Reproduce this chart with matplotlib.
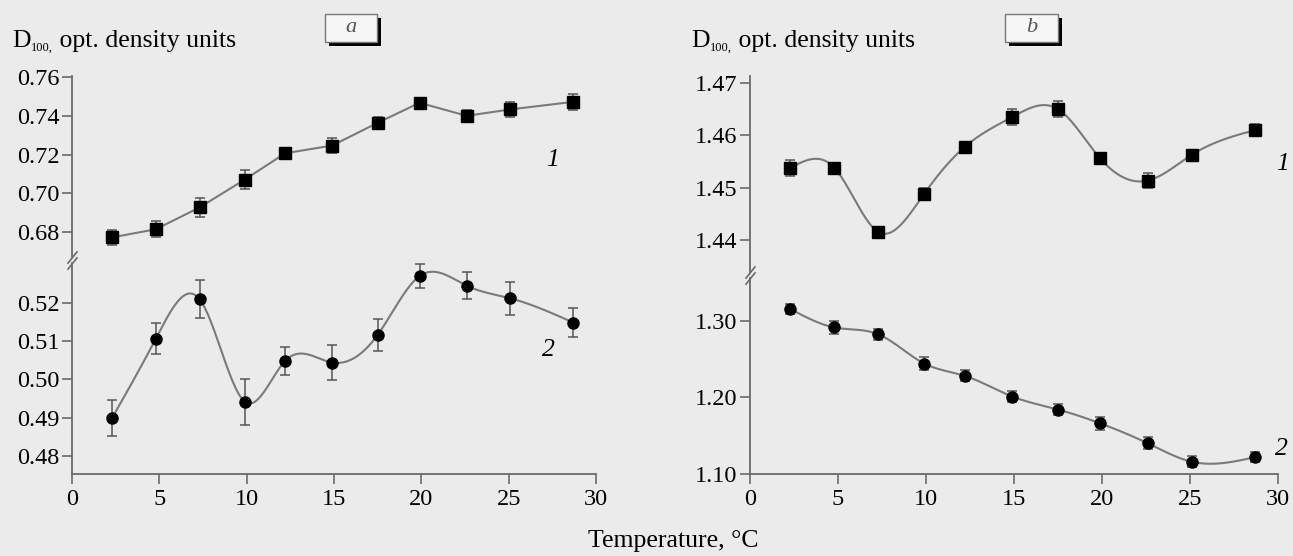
import numpy as np
import matplotlib
matplotlib.use('Agg')
import matplotlib.pyplot as plt
from matplotlib.patches import Rectangle

plt.rcParams['font.family'] = ['Liberation Serif', 'DejaVu Serif']

# temperature, degC
temp = [2.3, 4.8, 7.3, 9.9, 12.2, 14.9, 17.5, 19.9, 22.6, 25.1, 28.7]

# panel a
a1 = [0.6774, 0.6816, 0.6928, 0.7072, 0.7207, 0.7247, 0.7364, 0.7467, 0.7400, 0.7433, 0.7472]
a1_err = [0.004, 0.004, 0.005, 0.005, 0.002, 0.004, 0.003, 0.001, 0.003, 0.004, 0.004]
a2 = [0.4900, 0.5106, 0.5209, 0.4942, 0.5048, 0.5044, 0.5116, 0.5269, 0.5244, 0.5211, 0.5148]
a2_err = [0.0047, 0.0040, 0.0050, 0.0060, 0.0036, 0.0045, 0.0042, 0.0032, 0.0035, 0.0042, 0.0037]

# panel b
b1 = [1.4538, 1.4538, 1.4416, 1.4489, 1.4578, 1.4635, 1.4650, 1.4556, 1.4514, 1.4563, 1.4610]
b1_err = [0.0015, 0.001, 0.0008, 0.001, 0.001, 0.0015, 0.0015, 0.001, 0.0015, 0.001, 0.0012]
b2 = [1.315, 1.291, 1.282, 1.244, 1.228, 1.201, 1.184, 1.166, 1.140, 1.116, 1.122]
b2_err = [0.007, 0.008, 0.007, 0.008, 0.007, 0.007, 0.007, 0.008, 0.008, 0.007, 0.007]

x_ticks = [0, 5, 10, 15, 20, 25, 30]
a_top_ticks = [0.68, 0.70, 0.72, 0.74, 0.76]
a_bot_ticks = [0.48, 0.49, 0.50, 0.51, 0.52]
b_top_ticks = [1.44, 1.45, 1.46, 1.47]
b_bot_ticks = [1.10, 1.20, 1.30]

BG = '#ebebeb'
AX = '#6a6a6a'
LINE = '#7a7a7a'
FS = 17.5
FS_T = 18.5


def natural_spline(x, y, n=300):
    # natural cubic spline, drawn through the measured points
    x = np.asarray(x, float)
    y = np.asarray(y, float)
    k = len(x)
    h = np.diff(x)
    A = np.zeros((k, k))
    r = np.zeros(k)
    A[0, 0] = A[-1, -1] = 1
    for i in range(1, k - 1):
        A[i, i - 1] = h[i - 1]
        A[i, i] = 2 * (h[i - 1] + h[i])
        A[i, i + 1] = h[i]
        r[i] = 3 * ((y[i + 1] - y[i]) / h[i] - (y[i] - y[i - 1]) / h[i - 1])
    c = np.linalg.solve(A, r)
    b = (y[1:] - y[:-1]) / h - h * (2 * c[:-1] + c[1:]) / 3
    d = (c[1:] - c[:-1]) / (3 * h)
    xs = np.linspace(x[0], x[-1], n)
    idx = np.clip(np.searchsorted(x, xs) - 1, 0, k - 2)
    t = xs - x[idx]
    ys = y[idx] + b[idx] * t + c[idx] * t ** 2 + d[idx] * t ** 3
    return xs, ys


fig = plt.figure(figsize=(12.93, 5.56), dpi=100, facecolor=BG)
W, H = 1293.0, 556.0


def make_axes(x0, x1, y0, y1):
    ax = fig.add_axes([x0 / W, (H - y1) / H, (x1 - x0) / W, (y1 - y0) / H])
    ax.set_facecolor('none')
    for s in ['top', 'right']:
        ax.spines[s].set_visible(False)
    for s in ['left', 'bottom']:
        ax.spines[s].set_color(AX)
        ax.spines[s].set_linewidth(1.3)
    ax.tick_params(colors=AX, labelcolor='black', labelsize=FS, length=7, width=1.2, pad=2)
    ax.set_xlim(0, 30)
    return ax


def panel(x0, x1, y_top, y_brk, y_bot, top_lim, bot_lim, top_ticks, bot_ticks,
          top_y, top_err, top_smooth, bot_y, bot_err, bot_smooth):
    gap = 3
    ax_t = make_axes(x0, x1, y_top, y_brk - gap)
    ax_b = make_axes(x0, x1, y_brk + gap, y_bot)
    ax_t.spines['bottom'].set_visible(False)
    ax_t.tick_params(axis='x', bottom=False, labelbottom=False)
    ax_t.set_ylim(*top_lim)
    ax_b.set_ylim(*bot_lim)
    ax_t.set_yticks(top_ticks)
    ax_b.set_yticks(bot_ticks)
    ax_t.set_yticklabels(['%.2f' % v for v in top_ticks])
    ax_b.set_yticklabels(['%.2f' % v for v in bot_ticks])
    ax_b.set_xticks(x_ticks)
    ax_b.set_xticklabels([str(v) for v in x_ticks])
    ax_b.tick_params(axis='x', pad=4)

    for ax, y, err, smooth, mk, ms in [(ax_t, top_y, top_err, top_smooth, 's', 9),
                                        (ax_b, bot_y, bot_err, bot_smooth, 'o', 8)]:
        if smooth:
            xs, ys = natural_spline(temp, y)
            ax.plot(xs, ys, color=LINE, lw=1.5, zorder=2)
        else:
            ax.plot(temp, y, color=LINE, lw=1.5, zorder=2)
        ax.errorbar(temp, y, yerr=err, fmt='none', ecolor='#555555', elinewidth=1.1,
                    capsize=3.5, capthick=1.1, zorder=3)
        ax.plot(temp, y, mk, color='black', ms=ms, zorder=4)

    # axis break marks
    kw = dict(marker=[(-0.8, -1), (0.8, 1)], markersize=9, linestyle='none',
              color=AX, mec=AX, mew=1.2, clip_on=False)
    ax_t.plot([0], [0], transform=ax_t.transAxes, **kw)
    ax_b.plot([0], [1], transform=ax_b.transAxes, **kw)
    return ax_t, ax_b


ta, ba = panel(72, 596, 76, 260, 474, (0.6673, 0.7605), (0.4754, 0.5303),
               a_top_ticks, a_bot_ticks, a1, a1_err, False, a2, a2_err, True)
tb, bb = panel(750, 1278, 76, 275, 474, (1.4340, 1.4713), (1.10, 1.3555),
               b_top_ticks, b_bot_ticks, b1, b1_err, True, b2, b2_err, True)

# curve numbers
fig.text(553 / W, 1 - 160 / H, '1', fontsize=FS_T, style='italic', ha='center', va='center')
fig.text(548 / W, 1 - 350 / H, '2', fontsize=FS_T, style='italic', ha='center', va='center')
fig.text(1283 / W, 1 - 164 / H, '1', fontsize=FS_T, style='italic', ha='center', va='center')
fig.text(1281 / W, 1 - 449 / H, '2', fontsize=FS_T, style='italic', ha='center', va='center')


# y-axis titles: D with a tiny subscript 100
def ylabel(ax, x_px):
    t1 = fig.text(x_px / W, 1 - 47 / H, 'D', fontsize=FS_T, va='baseline', ha='left')
    sub = ax.annotate('100,', xy=(1, 0), xycoords=t1, xytext=(0.5, -1),
                      textcoords='offset points', fontsize=9, va='bottom', ha='left',
                      annotation_clip=False)
    ax.annotate(' opt. density units', xy=(1, 0), xycoords=(sub, t1), xytext=(0, 0),
                textcoords='offset points', fontsize=FS_T, va='bottom', ha='left',
                annotation_clip=False)


ylabel(ta, 12)
ylabel(tb, 691)

# panel letters in shadowed boxes
for (bx, by, bw, bh, letter) in [(325, 14, 52, 28, 'a'), (1005, 14, 53, 28, 'b')]:
    fig.patches.append(Rectangle(((bx + 4) / W, 1 - (by + bh + 4) / H), bw / W, bh / H,
                                 transform=fig.transFigure, facecolor='black', edgecolor='none'))
    fig.patches.append(Rectangle((bx / W, 1 - (by + bh) / H), bw / W, bh / H,
                                 transform=fig.transFigure, facecolor='#f6f6f6',
                                 edgecolor='#777777', lw=1))
    fig.text((bx + bw / 2) / W, 1 - (by + bh / 2) / H, letter, fontsize=16,
             style='italic', color='#555555', ha='center', va='center')

fig.text(673 / W, 1 - 541 / H, 'Temperature, \u00b0C', fontsize=FS_T, ha='center', va='center')

fig.savefig('out.png', dpi=100, facecolor=BG)
